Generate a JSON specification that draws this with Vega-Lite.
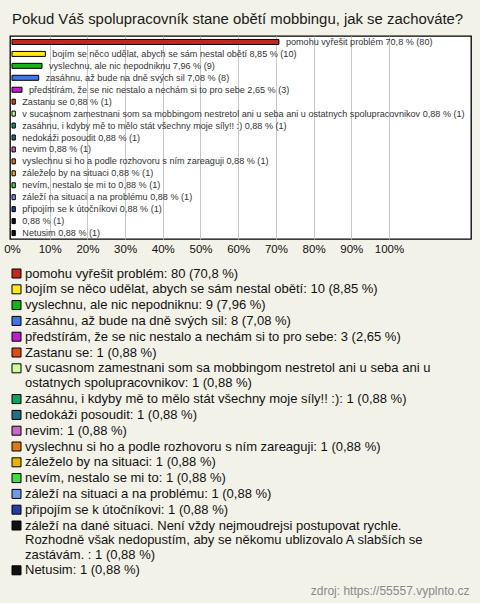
{
  "$schema": "https://vega.github.io/schema/vega-lite/v6.json",
  "width": 461,
  "height": 203,
  "autosize": {"type": "none"},
  "padding": {"left": 10, "top": 36, "right": 9, "bottom": 364},
  "background": "#f3f2e9",
  "title": {
    "text": "Pokud Váš spolupracovník stane obětí mobbingu, jak se zachováte?",
    "anchor": "start",
    "frame": "group",
    "fontSize": 14.9,
    "fontWeight": "normal",
    "font": "Liberation Sans",
    "color": "#1a1a1a",
    "offset": 9,
    "dx": 2
  },
  "config": {
    "view": {"fill": "white", "stroke": "black", "strokeWidth": 1.3},
    "font": "Liberation Sans",
    "style": {"guide-label": {"lineHeight": 14.6}}
  },
  "data": {
    "values": [
      {"cat": "c01", "pct": 70.8, "label": "pomohu vyřešit problém 70,8 % (80)", "legend": "pomohu vyřešit problém: 80 (70,8 %)"},
      {"cat": "c02", "pct": 8.85, "label": "bojím se něco udělat, abych se sám nestal obětí 8,85 % (10)", "legend": "bojím se něco udělat, abych se sám nestal obětí: 10 (8,85 %)"},
      {"cat": "c03", "pct": 7.96, "label": "vyslechnu, ale nic nepodniknu 7,96 % (9)", "legend": "vyslechnu, ale nic nepodniknu: 9 (7,96 %)"},
      {"cat": "c04", "pct": 7.08, "label": "zasáhnu, až bude na dně svých sil 7,08 % (8)", "legend": "zasáhnu, až bude na dně svých sil: 8 (7,08 %)"},
      {"cat": "c05", "pct": 2.65, "label": "předstírám, že se nic nestalo a nechám si to pro sebe 2,65 % (3)", "legend": "předstírám, že se nic nestalo a nechám si to pro sebe: 3 (2,65 %)"},
      {"cat": "c06", "pct": 0.88, "label": "Zastanu se 0,88 % (1)", "legend": "Zastanu se: 1 (0,88 %)"},
      {"cat": "c07", "pct": 0.88, "label": "v sucasnom zamestnani som sa mobbingom nestretol ani u seba ani u ostatnych spolupracovnikov 0,88 % (1)", "legend": "v sucasnom zamestnani som sa mobbingom nestretol ani u seba ani u|ostatnych spolupracovnikov: 1 (0,88 %)"},
      {"cat": "c08", "pct": 0.88, "label": "zasáhnu, i kdyby mě to mělo stát všechny moje síly!! :) 0,88 % (1)", "legend": "zasáhnu, i kdyby mě to mělo stát všechny moje síly!! :): 1 (0,88 %)"},
      {"cat": "c09", "pct": 0.88, "label": "nedokáži posoudit 0,88 % (1)", "legend": "nedokáži posoudit: 1 (0,88 %)"},
      {"cat": "c10", "pct": 0.88, "label": "nevim 0,88 % (1)", "legend": "nevim: 1 (0,88 %)"},
      {"cat": "c11", "pct": 0.88, "label": "vyslechnu si ho a podle rozhovoru s ním zareaguji 0,88 % (1)", "legend": "vyslechnu si ho a podle rozhovoru s ním zareaguji: 1 (0,88 %)"},
      {"cat": "c12", "pct": 0.88, "label": "záleželo by na situaci 0,88 % (1)", "legend": "záleželo by na situaci: 1 (0,88 %)"},
      {"cat": "c13", "pct": 0.88, "label": "nevím, nestalo se mi to 0,88 % (1)", "legend": "nevím, nestalo se mi to: 1 (0,88 %)"},
      {"cat": "c14", "pct": 0.88, "label": "záleží na situaci a na problému 0,88 % (1)", "legend": "záleží na situaci a na problému: 1 (0,88 %)"},
      {"cat": "c15", "pct": 0.88, "label": "připojím se k útočníkovi 0,88 % (1)", "legend": "připojím se k útočníkovi: 1 (0,88 %)"},
      {"cat": "c16", "pct": 0.88, "label": "0,88 % (1)", "legend": "záleží na dané situaci. Není vždy nejmoudrejsi postupovat rychle.|Rozhodně však nedopustím,  aby se někomu ublizovalo  A slabších se|zastávám. : 1 (0,88 %)"},
      {"cat": "c17", "pct": 0.88, "label": "Netusim 0,88 % (1)", "legend": "Netusim: 1 (0,88 %)"}
    ]
  },
  "encoding": {
    "y": {"field": "cat", "type": "nominal", "sort": null, "axis": null, "scale": {"paddingInner": 0, "paddingOuter": 0}},
    "x": {
      "field": "pct",
      "type": "quantitative",
      "scale": {"domain": [-0.53, 121.75], "nice": false, "zero": false},
      "axis": {
        "values": [0, 10, 20, 30, 40, 50, 60, 70, 80, 90, 100],
        "labelExpr": "datum.value + '%'",
        "labelFlush": false,
        "domain": false,
        "ticks": false,
        "grid": true,
        "gridColor": {"condition": {"test": "datum.value == 0", "value": "transparent"}, "value": "#c6c6c6"},
        "gridWidth": 1,
        "labelFontSize": 11.5,
        "labelColor": "#111",
        "labelPadding": 4,
        "title": "zdroj: https://55557.vyplnto.cz",
        "titleFontSize": 12,
        "titleFontWeight": "normal",
        "titleColor": "#8a8a8a",
        "titleAlign": "right",
        "titleAnchor": "end",
        "titleBaseline": "alphabetic",
        "titleX": 459,
        "titleY": 355
      }
    }
  },
  "layer": [
    {
      "mark": {"type": "bar", "height": 5, "stroke": "black", "strokeWidth": 1},
      "encoding": {
        "color": {
          "field": "legend",
          "type": "nominal",
          "sort": null,
          "scale": {"range": ["#c4281c", "#ffe81a", "#19b219", "#4473e6", "#c020c8", "#e04c14", "#ccff99", "#14a060", "#226f88", "#cc66cc", "#e07818", "#e8b400", "#44dd44", "#6f9be6", "#2040a8", "#111111", "#111111"]},
          "legend": {
            "orient": "none",
            "legendX": 0,
            "legendY": 231,
            "title": null,
            "padding": 0,
            "symbolType": "square",
            "symbolSize": 81,
            "symbolStrokeColor": "black",
            "symbolStrokeWidth": 1,
            "symbolOpacity": 1,
            "labelFontSize": 13,
            "labelColor": "#111",
            "labelLimit": 470,
            "labelOffset": 2,
            "rowPadding": 1.8,
            "labelExpr": "split(datum.label, '|')"
          }
        }
      }
    },
    {
      "mark": {"type": "text", "align": "left", "dx": 7, "fontSize": 9.1, "color": "#333"},
      "encoding": {"text": {"field": "label"}}
    }
  ]
}
